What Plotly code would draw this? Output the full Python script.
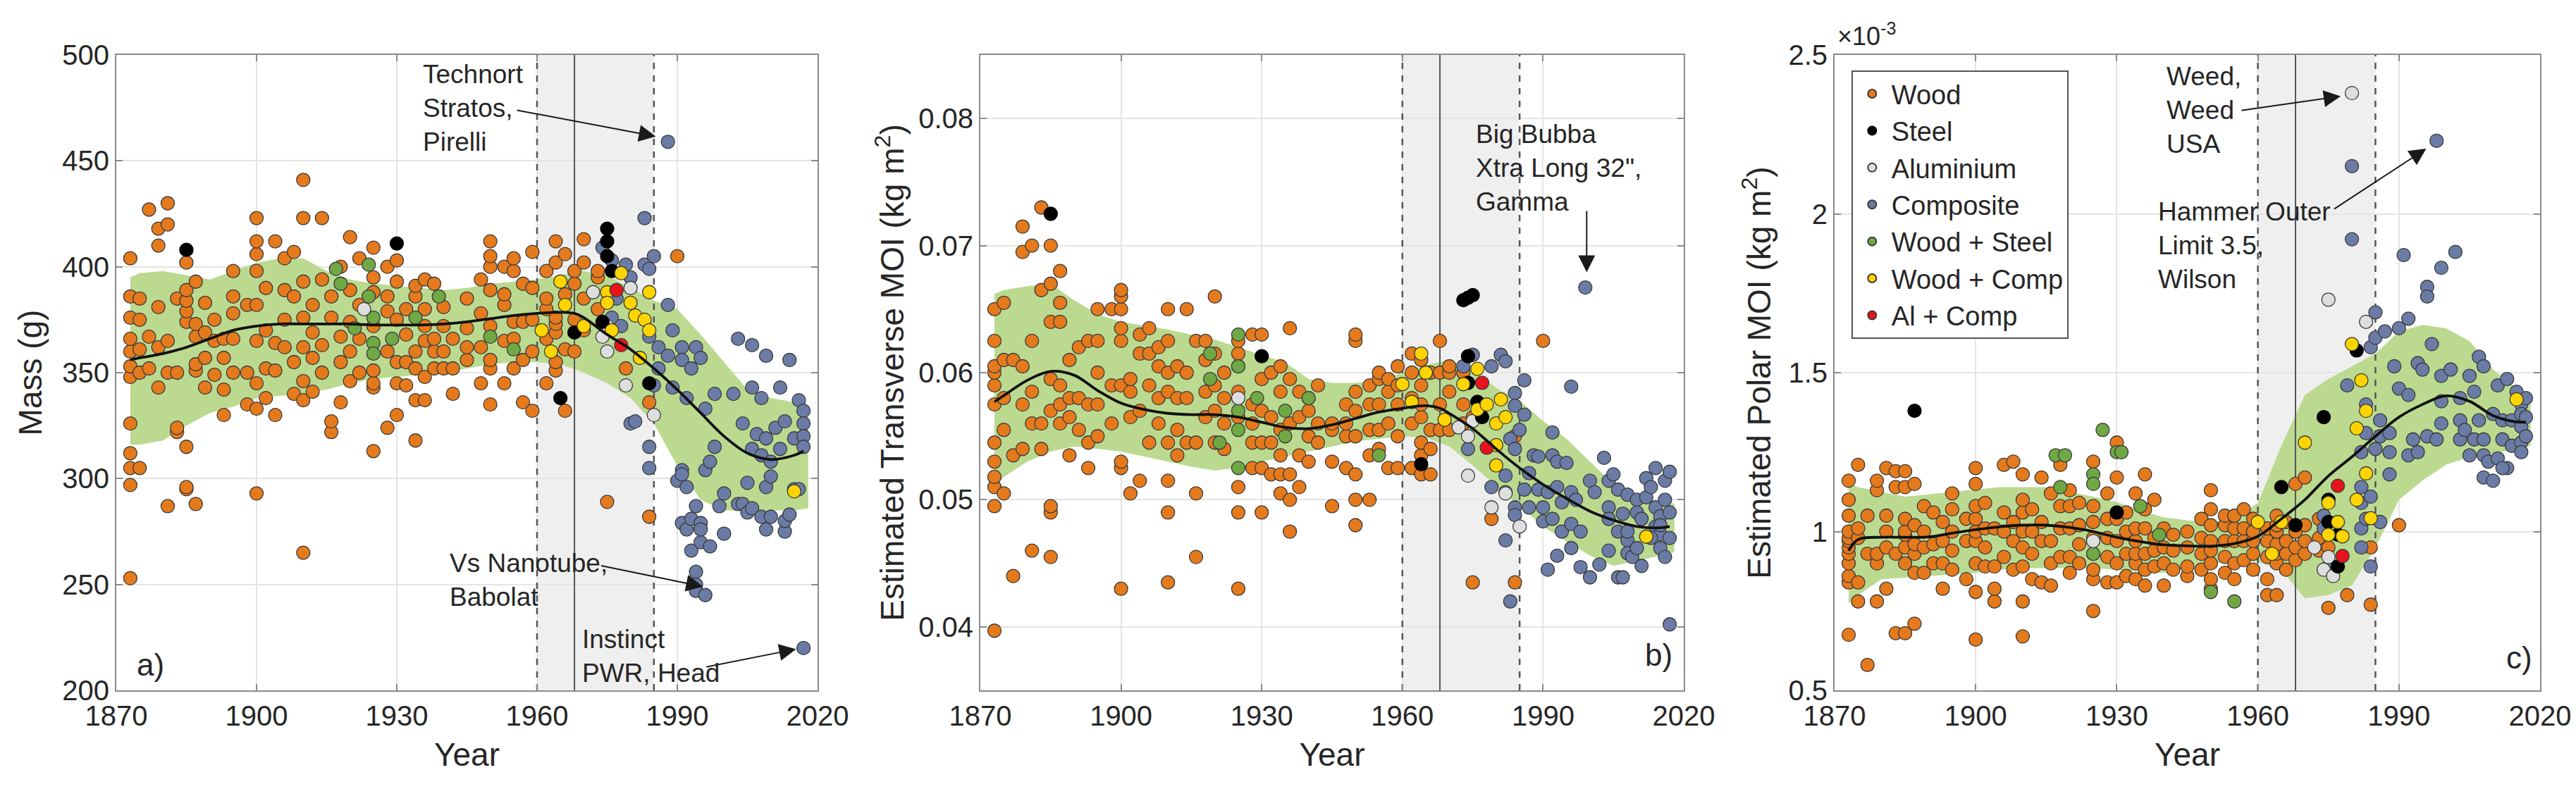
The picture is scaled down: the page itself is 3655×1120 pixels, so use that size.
import plotly.graph_objects as go

# ---------------------------------------------------------------- data
# wood rackets (same rackets in all three panels); polar MOI in 1e-3 kg m^2
WOOD_YEAR = [
    1873, 1873, 1873, 1873, 1873, 1873, 1873, 1873, 1873, 1873, 1873, 1873,
    1875, 1875, 1875, 1875, 1875,
    1877, 1877, 1877,
    1879, 1879, 1879, 1879, 1879,
    1881, 1881, 1881, 1881, 1881,
    1883, 1883, 1883, 1883,
    1885, 1885, 1885, 1885, 1885, 1885, 1885, 1885,
    1887, 1887, 1887, 1887, 1887, 1887,
    1889, 1889, 1889, 1889,
    1891, 1891, 1891,
    1893, 1893, 1893, 1893,
    1895, 1895, 1895, 1895, 1895,
    1898, 1898, 1898,
    1900, 1900, 1900, 1900, 1900, 1900, 1900, 1900, 1900,
    1902, 1902, 1902, 1902,
    1904, 1904, 1904, 1904,
    1906, 1906, 1906, 1906,
    1908, 1908, 1908, 1908,
    1910, 1910, 1910, 1910, 1910, 1910, 1910, 1910,
    1912, 1912, 1912, 1912,
    1914, 1914, 1914, 1914,
    1916, 1916, 1916, 1916,
    1918, 1918, 1918, 1918,
    1920, 1920, 1920, 1920, 1920,
    1922, 1922, 1922, 1922,
    1925, 1925, 1925, 1925, 1925, 1925, 1925, 1925,
    1928, 1928, 1928, 1928, 1928,
    1930, 1930, 1930, 1930, 1930, 1930,
    1932, 1932, 1932, 1932,
    1934, 1934, 1934, 1934, 1934, 1934,
    1936, 1936, 1936, 1936, 1936, 1936,
    1938, 1938, 1938, 1938,
    1940, 1940, 1940, 1940,
    1942, 1942, 1942,
    1945, 1945, 1945, 1945,
    1948, 1948, 1948, 1948,
    1950, 1950, 1950, 1950, 1950, 1950, 1950, 1950,
    1953, 1953, 1953, 1953, 1953,
    1955, 1955, 1955, 1955, 1955,
    1957, 1957, 1957, 1957,
    1959, 1959, 1959, 1959, 1959,
    1962, 1962, 1962, 1962, 1962,
    1964, 1964, 1964, 1964, 1964, 1964, 1964,
    1966, 1966, 1966, 1966,
    1968, 1968, 1968, 1968,
    1970, 1970, 1970, 1970,
    1973, 1973, 1973,
    1975, 1975,
    1979,
    1984, 1984,
    1990,
]
WOOD_MASS = [
    253, 297, 305, 312, 326, 348, 353, 360, 366, 376, 386, 404,
    305, 350, 361, 375, 385,
    352, 367, 427,
    343, 362, 381, 410, 418,
    287, 350, 365, 420, 430,
    322, 324, 350, 385,
    295, 296, 315, 374, 379, 384, 389, 402,
    288, 351, 354, 367, 373, 393,
    343, 357, 369, 383,
    349, 365, 375,
    330, 342, 357, 366,
    350, 366, 378, 386, 398,
    335, 350, 382,
    293, 333, 345, 365, 382, 398, 406, 412, 423,
    338, 352, 370, 390,
    330, 351, 364, 412,
    362, 375, 389, 404,
    340, 355, 386, 407,
    265, 337, 346, 362, 376, 393, 423, 441,
    341, 357, 369, 382,
    350, 363, 394, 423,
    322, 327, 376, 386,
    336, 355, 367, 400,
    346, 360, 374, 389, 414,
    350, 366, 382, 404,
    313, 343, 345, 351, 372, 388, 395, 409,
    324, 360, 379, 386, 400,
    330, 345, 355, 375, 393, 403,
    344, 355, 368, 380,
    318, 337, 352, 360, 386, 391,
    337, 348, 365, 372, 380, 394,
    352, 360, 366, 392,
    352, 360, 372, 381,
    340, 352, 366,
    356, 362, 371, 385,
    345, 362, 378, 394,
    335, 352, 356, 372, 389, 400, 405, 412,
    345, 365, 382, 387, 400,
    352, 366, 374, 398, 404,
    336, 356, 374, 392,
    332, 360, 375, 390, 407,
    345, 366, 380, 385, 398,
    351, 355, 369, 373, 376, 402, 412,
    332, 361, 387, 406,
    360, 375, 392, 398,
    370, 385, 402, 413,
    380, 395, 398,
    289, 370,
    352,
    282, 336,
    405,
]
WOOD_TMOI = [
    0.0397, 0.0495, 0.0510, 0.0518, 0.0530, 0.0545, 0.0575, 0.0590, 0.0600, 0.0605, 0.0625, 0.0650,
    0.0505, 0.0555, 0.0580, 0.0610, 0.0655,
    0.0440, 0.0535, 0.0610,
    0.0540, 0.0575, 0.0605, 0.0695, 0.0715,
    0.0460, 0.0560, 0.0585, 0.0625, 0.0700,
    0.0540, 0.0560, 0.0665, 0.0730,
    0.0455, 0.0490, 0.0495, 0.0570, 0.0595, 0.0640, 0.0670, 0.0700,
    0.0560, 0.0575, 0.0590, 0.0640, 0.0655, 0.0680,
    0.0535, 0.0565, 0.0580, 0.0610,
    0.0555, 0.0580, 0.0620,
    0.0525, 0.0545, 0.0575, 0.0625,
    0.0550, 0.0575, 0.0600, 0.0625, 0.0650,
    0.0560, 0.0590, 0.0650,
    0.0430, 0.0525, 0.0530, 0.0590, 0.0625, 0.0635, 0.0650, 0.0660, 0.0665,
    0.0505, 0.0565, 0.0585, 0.0595,
    0.0515, 0.0570, 0.0615, 0.0630,
    0.0545, 0.0590, 0.0615, 0.0635,
    0.0560, 0.0580, 0.0605, 0.0620,
    0.0435, 0.0490, 0.0515, 0.0545, 0.0585, 0.0600, 0.0625, 0.0650,
    0.0535, 0.0555, 0.0580, 0.0605,
    0.0545, 0.0580, 0.0600, 0.0650,
    0.0455, 0.0505, 0.0545, 0.0625,
    0.0565, 0.0585, 0.0610, 0.0625,
    0.0545, 0.0570, 0.0590, 0.0615, 0.0660,
    0.0540, 0.0560, 0.0580, 0.0600,
    0.0430, 0.0490, 0.0510, 0.0565, 0.0585, 0.0605, 0.0615, 0.0625,
    0.0525, 0.0545, 0.0560, 0.0575, 0.0630,
    0.0490, 0.0525, 0.0545, 0.0570, 0.0595, 0.0630,
    0.0520, 0.0545, 0.0565, 0.0600,
    0.0505, 0.0520, 0.0535, 0.0555, 0.0585, 0.0605,
    0.0475, 0.0500, 0.0520, 0.0560, 0.0595, 0.0635,
    0.0510, 0.0535, 0.0565, 0.0585,
    0.0530, 0.0550, 0.0570, 0.0580,
    0.0545, 0.0560, 0.0590,
    0.0495, 0.0530, 0.0555, 0.0560,
    0.0525, 0.0550, 0.0560, 0.0575,
    0.0480, 0.0500, 0.0520, 0.0550, 0.0570, 0.0585, 0.0625, 0.0630,
    0.0500, 0.0535, 0.0555, 0.0575, 0.0590,
    0.0540, 0.0555, 0.0575, 0.0595, 0.0600,
    0.0525, 0.0560, 0.0585, 0.0595,
    0.0525, 0.0550, 0.0575, 0.0590, 0.0605,
    0.0525, 0.0560, 0.0580, 0.0600, 0.0615,
    0.0520, 0.0535, 0.0545, 0.0565, 0.0575, 0.0590, 0.0610,
    0.0520, 0.0540, 0.0555, 0.0600,
    0.0555, 0.0575, 0.0600, 0.0625,
    0.0555, 0.0585, 0.0600, 0.0605,
    0.0560, 0.0575, 0.0600,
    0.0435, 0.0565,
    0.0485,
    0.0435, 0.0550,
    0.0625,
]
WOOD_PMOI = [
    0.675, 0.84, 0.86, 0.90, 0.93, 0.95, 0.97, 0.98, 1.00, 1.05, 1.10, 1.16,
    0.78, 0.84, 0.98, 1.01, 1.21,
    0.58, 0.93, 1.05,
    0.78, 0.90, 0.93, 1.13, 1.16,
    0.82, 0.95, 1.00, 1.05, 1.20,
    0.68, 0.93, 1.14, 1.19,
    0.68, 0.90, 0.95, 0.99, 1.00, 1.04, 1.14, 1.19,
    0.71, 0.87, 0.93, 0.96, 1.02, 1.15,
    0.87, 0.95, 1.00, 1.08,
    0.90, 0.96, 1.06,
    0.82, 0.90, 0.97, 1.03,
    0.88, 0.94, 1.00, 1.07, 1.12,
    0.85, 0.97, 1.04,
    0.66, 0.81, 0.90, 0.97, 1.00, 1.04, 1.08, 1.15, 1.20,
    0.89, 0.95, 1.01, 1.09,
    0.78, 0.82, 0.89, 1.01,
    0.92, 1.00, 1.06, 1.21,
    0.88, 0.97, 1.03, 1.22,
    0.67, 0.78, 0.89, 0.95, 1.00, 1.06, 1.10, 1.18,
    0.85, 0.93, 1.00, 1.07,
    0.84, 0.97, 1.03, 1.17,
    0.83, 0.90, 0.97, 1.12,
    0.92, 1.01, 1.08, 1.21,
    0.87, 0.92, 1.01, 1.08, 1.13,
    0.90, 0.96, 1.02, 1.09,
    0.75, 0.85, 0.88, 0.93, 0.98, 1.03, 1.08, 1.22,
    0.84, 0.92, 0.98, 1.04, 1.12,
    0.84, 0.90, 0.97, 1.04, 1.17, 1.28,
    0.86, 0.93, 1.00, 1.06,
    0.85, 0.90, 0.93, 0.97, 1.01, 1.12,
    0.83, 0.88, 0.93, 1.01, 1.07, 1.18,
    0.89, 0.94, 0.98, 1.10,
    0.83, 0.90, 0.95, 1.01,
    0.88, 0.94, 0.99,
    0.86, 0.89, 0.95, 1.00,
    0.88, 0.93, 0.98, 1.04,
    0.82, 0.85, 0.90, 0.94, 0.97, 1.02, 1.07, 1.13,
    0.87, 0.92, 0.97, 1.02, 1.05,
    0.85, 0.90, 0.97, 1.01, 1.05,
    0.91, 0.97, 1.01, 1.07,
    0.88, 0.93, 0.97, 1.00, 1.04,
    0.80, 0.85, 0.92, 0.97, 1.01,
    0.80, 0.90, 0.93, 0.96, 1.00, 1.02, 1.05,
    0.88, 0.93, 0.97, 1.03,
    0.91, 0.95, 1.00, 1.15,
    0.93, 0.97, 1.02, 1.17,
    0.94, 0.98, 1.04,
    0.76, 0.95,
    0.80,
    0.77, 0.95,
    1.02,
]

# composite rackets, read separately in each panel
COMP_YEAR_A = [
    1974, 1976, 1976, 1977, 1978, 1979, 1980, 1980, 1981, 1983, 1983, 1984, 1984, 1984, 1984,
    1985, 1985, 1986, 1986, 1988, 1988, 1988, 1989, 1989, 1990, 1991, 1991, 1991, 1991, 1991,
    1992, 1992, 1992, 1993, 1993, 1993, 1994, 1994, 1994, 1994, 1994, 1995, 1995, 1995, 1995,
    1996, 1996, 1996, 1997, 1997, 1998, 1998, 1999, 2000, 2000, 2002, 2003, 2003, 2004, 2004,
    2005, 2005, 2006, 2006, 2006, 2006, 2007, 2008, 2008, 2008, 2009, 2009, 2009, 2009, 2010,
    2010, 2010, 2011, 2012, 2012, 2013, 2013, 2013, 2014, 2014, 2015, 2015, 2016, 2016, 2017,
    2017, 2017, 2017, 2017,
]
COMP_MASS = [
    409, 403, 376, 385, 372, 401, 395, 326, 327, 423, 401, 399, 367, 315, 305,
    405, 344, 362, 352, 459, 382, 358, 370, 343, 299, 362, 356, 304, 302, 279,
    338, 296, 276, 352, 281, 266, 362, 287, 256, 250, 247, 357, 279, 270, 276,
    333, 304, 245, 308, 268, 340, 315, 287, 293, 274, 340, 366, 288, 326, 288,
    298, 284, 363, 343, 314, 286, 321, 338, 311, 282, 358, 296, 276, 319, 308,
    301, 282, 324, 343, 314, 327, 275, 280, 356, 283, 319, 295, 337, 295, 332,
    326, 320, 315, 220,
]
COMP_YEAR_B = [
    1973, 1974, 1975, 1979, 1979, 1981, 1982, 1982, 1982, 1982, 1983, 1983, 1984, 1984, 1984,
    1984, 1984, 1985, 1986, 1986, 1986, 1987, 1987, 1988, 1989, 1989, 1990, 1990, 1991, 1991,
    1992, 1992, 1992, 1993, 1993, 1993, 1994, 1994, 1995, 1996, 1996, 1996, 1996, 1997, 1998,
    1998, 1999, 2000, 2000, 2001, 2002, 2003, 2004, 2004, 2004, 2004, 2005, 2006, 2006, 2006,
    2007, 2007, 2008, 2008, 2008, 2008, 2010, 2010, 2012, 2012, 2014, 2014, 2014, 2015, 2015,
    2015, 2015, 2016, 2017, 2011, 2013, 2016, 2017, 2017, 2013, 2011, 2016, 2009, 2010, 2017,
]
COMP_TMOI = [
    0.0605, 0.0540, 0.0614, 0.0605, 0.0510, 0.0614, 0.0609, 0.0519, 0.0506, 0.0468, 0.0548, 0.0420, 0.0584, 0.0574, 0.0540,
    0.0494, 0.0488, 0.0555, 0.0594, 0.0567, 0.0508, 0.0521, 0.0494, 0.0535, 0.0534, 0.0508, 0.0494, 0.0483, 0.0506, 0.0445,
    0.0553, 0.0535, 0.0485, 0.0456, 0.0510, 0.0530, 0.0498, 0.0475, 0.0529, 0.0589, 0.0506, 0.0481, 0.0462, 0.0500, 0.0475,
    0.0447, 0.0667, 0.0515, 0.0439, 0.0506, 0.0449, 0.0533, 0.0515, 0.0494, 0.0460, 0.0485, 0.0520, 0.0508, 0.0475, 0.0439,
    0.0489, 0.0439, 0.0504, 0.0468, 0.0458, 0.0475, 0.0500, 0.0490, 0.0502, 0.0517, 0.0525, 0.0494, 0.0479, 0.0487, 0.0473,
    0.0462, 0.0480, 0.0500, 0.0402, 0.0485, 0.0470, 0.0455, 0.0490, 0.0470, 0.0510, 0.0448, 0.0515, 0.0455, 0.0462, 0.0522,
]
COMP_YEAR_C = [
    1975, 1974, 1974, 1979, 1980, 1980, 1982, 1982, 1982, 1982, 1982, 1983, 1983, 1983, 1984,
    1984, 1984, 1985, 1985, 1985, 1986, 1986, 1986, 1987, 1988, 1988, 1988, 1989, 1990, 1990,
    1991, 1992, 1992, 1992, 1993, 1994, 1994, 1995, 1996, 1996, 1996, 1997, 1998, 1998, 1999,
    1999, 1999, 1999, 2001, 2002, 2003, 2003, 2003, 2004, 2005, 2005, 2006, 2006, 2007, 2007,
    2008, 2008, 2008, 2008, 2009, 2010, 2011, 2011, 2012, 2012, 2013, 2013, 2014, 2014, 2015,
    2016, 2016, 2016, 2016, 2016, 2017, 2017, 2017, 2010, 2012,
]
COMP_PMOI = [
    0.89, 1.05, 1.01, 1.46, 2.15, 1.92, 1.25, 1.14, 1.09, 1.01, 0.95, 1.40, 1.31, 1.04, 1.58,
    1.11, 0.89, 1.69, 1.61, 1.26, 1.35, 1.30, 1.03, 1.63, 1.31, 1.25, 1.18, 1.52, 1.64, 1.45,
    1.87, 1.67, 1.43, 1.24, 1.29, 1.53, 1.25, 1.51, 1.77, 1.74, 1.30, 1.59, 1.29, 2.23, 1.83,
    1.49, 1.41, 1.34, 1.51, 1.88, 1.42, 1.35, 1.29, 1.32, 1.49, 1.24, 1.44, 1.29, 1.55, 1.35,
    1.52, 1.24, 1.17, 1.29, 1.22, 1.37, 1.46, 1.23, 1.35, 1.29, 1.48, 1.20, 1.27, 1.35, 1.44,
    1.40, 1.37, 1.33, 1.28, 1.25, 1.30, 1.36, 1.42, 1.16, 1.20,
]

STEEL_YEAR_A = [1885, 1930, 1965, 1968, 1974, 1975, 1975, 1975, 1976, 1984]
STEEL_MASS = [408, 411, 338, 369, 374, 418, 412, 405, 398, 345]
STEEL_YEAR_B = [1885, 1930, 1964, 1973, 1974, 1975, 1974, 1974, 1976, 1977]
STEEL_TMOI = [0.0725, 0.0613, 0.0528, 0.0657, 0.0659, 0.0661, 0.0613, 0.0592, 0.0577, 0.0565]
STEEL_YEAR_C = [1887, 1930, 1965, 1968, 1974, 1975, 1977, 1981, 1975, 1977]
STEEL_PMOI = [1.38, 1.06, 1.14, 1.02, 1.36, 1.03, 0.89, 1.57, 1.10, 0.99]

ALU_YEAR_A = [1923, 1972, 1974, 1975, 1975, 1979, 1980, 1985]
ALU_MASS = [380, 388, 367, 360, 372, 344, 390, 330]
ALU_YEAR_B = [1925, 1972, 1974, 1974, 1975, 1979, 1982, 1985]
ALU_TMOI = [0.0580, 0.0557, 0.0550, 0.0519, 0.0562, 0.0494, 0.0505, 0.0479]
ALU_YEAR_C = [1925, 1972, 1974, 1975, 1976, 1980, 1975, 1983]
ALU_PMOI = [0.97, 0.95, 0.88, 0.92, 0.86, 2.38, 1.73, 1.66]

WSTEEL_YEAR_A = [1917, 1918, 1921, 1924, 1924, 1925, 1925, 1925, 1929, 1934, 1939, 1950, 1955]
WSTEEL_MASS = [399, 392, 371, 401, 386, 376, 364, 359, 366, 376, 386, 367, 361]
WSTEEL_YEAR_B = [1919, 1919, 1921, 1925, 1925, 1925, 1925, 1925, 1929, 1935, 1940, 1955, 1935]
WSTEEL_TMOI = [0.0615, 0.0595, 0.0545, 0.0630, 0.0605, 0.0570, 0.0555, 0.0525, 0.0580, 0.0550, 0.0580, 0.0535, 0.0570]
WSTEEL_YEAR_C = [1917, 1919, 1918, 1927, 1925, 1925, 1925, 1930, 1931, 1935, 1939, 1950, 1955]
WSTEEL_PMOI = [1.24, 1.24, 1.14, 1.32, 1.18, 1.15, 0.93, 1.25, 1.25, 1.08, 0.99, 0.81, 0.78]

WCOMP_YEAR_A = [1961, 1963, 1965, 1966, 1970, 1975, 1975, 1976, 1978, 1980, 1981, 1982, 1983, 1984, 1984, 2015]
WCOMP_MASS = [370, 360, 393, 382, 372, 388, 383, 370, 397, 383, 377, 357, 375, 388, 370, 294]
WCOMP_YEAR_B = [1960, 1962, 1964, 1965, 1969, 1973, 1976, 1976, 1978, 1980, 1980, 1981, 1982, 1980, 2012]
WCOMP_TMOI = [0.0591, 0.0577, 0.0615, 0.0600, 0.0563, 0.0591, 0.0603, 0.0571, 0.0575, 0.0560, 0.0543,
              0.0579, 0.0565, 0.0527, 0.0471]
WCOMP_YEAR_C = [1960, 1963, 1965, 1970, 1975, 1975, 1977, 1978, 1980, 1981, 1981, 1982, 1983, 1983, 1984, 2015]
WCOMP_PMOI = [1.03, 0.93, 1.03, 1.28, 1.09, 0.99, 1.03, 0.985, 1.59, 1.325, 1.10, 1.476, 1.38, 1.183, 1.042, 1.416]

ALCOMP_YEAR = [1977, 1978]
ALCOMP_MASS = [389, 363]
ALCOMP_TMOI = [0.0592, 0.0541]
ALCOMP_PMOI = [1.144, 0.923]

# shaded spread and smoothed trend
BAND_YEAR = [1873, 1875, 1880, 1885, 1890, 1895, 1900, 1905, 1910, 1915, 1920, 1925, 1930, 1935, 1940,
             1945, 1950, 1955, 1960, 1965, 1970, 1975, 1980, 1985, 1990, 1995, 2000, 2005, 2010, 2015, 2018]
MASS_BAND_HI = [395, 397, 398, 396, 394, 398, 402, 404, 404, 398, 394, 392, 391, 390, 389,
                390, 392, 393, 394, 396, 398, 396, 390, 384, 380, 368, 355, 342, 338, 336, 334]
MASS_BAND_LO = [316, 316, 318, 325, 331, 334, 338, 339, 340, 342, 345, 347, 348, 349, 350,
                352, 354, 355, 355, 354, 350, 345, 338, 326, 306, 290, 285, 285, 285, 285, 286]
TMOI_BAND_HI = [0.0662, 0.0665, 0.0668, 0.0670, 0.0657, 0.0646, 0.0640, 0.0637, 0.0634, 0.0630, 0.0626,
                0.0620, 0.0614, 0.0608, 0.0595, 0.0592, 0.0592, 0.0594, 0.0600, 0.0606, 0.0610, 0.0602,
                0.0588, 0.0578, 0.0562, 0.0548, 0.0530, 0.0512, 0.0500, 0.0497, 0.0497]
TMOI_BAND_LO = [0.0510, 0.0518, 0.0530, 0.0538, 0.0542, 0.0540, 0.0538, 0.0534, 0.0530, 0.0526, 0.0523,
                0.0525, 0.0530, 0.0534, 0.0538, 0.0542, 0.0546, 0.0548, 0.0550, 0.0549, 0.0542, 0.0527,
                0.0511, 0.0495, 0.0479, 0.0467, 0.0456, 0.0448, 0.0452, 0.0456, 0.0459]
PMOI_BAND_HI = [1.15, 1.14, 1.125, 1.11, 1.117, 1.125, 1.133, 1.14, 1.14, 1.14, 1.125, 1.11, 1.093, 1.065,
                1.045, 1.035, 1.03, 1.04, 1.09, 1.27, 1.43, 1.48, 1.52, 1.56, 1.63, 1.65, 1.64, 1.60,
                1.51, 1.45, 1.43]
PMOI_BAND_LO = [0.775, 0.80, 0.85, 0.855, 0.86, 0.865, 0.87, 0.88, 0.885, 0.885, 0.885, 0.885, 0.88,
                0.875, 0.87, 0.885, 0.90, 0.905, 0.905, 0.88, 0.79, 0.80, 0.83, 0.95, 1.10, 1.16, 1.21,
                1.235, 1.245, 1.26, 1.27]

TREND_YEAR = [1873, 1875, 1880, 1885, 1890, 1895, 1900, 1905, 1910, 1915, 1920, 1925, 1930, 1935, 1940, 1945,
              1950, 1955, 1960, 1965, 1968, 1970, 1975, 1980, 1985, 1990, 1995, 2000, 2005, 2010, 2015, 2017]
MASS_TREND = [356, 357, 359, 362, 366, 370, 372, 373, 373, 373, 373, 372.5, 372.5, 372.5, 373, 374,
              375.5, 377, 378, 378.5, 378, 376, 368, 361, 352, 342, 331, 320, 312, 309, 311, 313]
TMOI_TREND = [0.0577, 0.0582, 0.0594, 0.0601, 0.0598, 0.0586, 0.0576, 0.0571, 0.0568, 0.0567, 0.0567,
              0.0565, 0.0561, 0.0557, 0.0556, 0.0559, 0.0564, 0.0569, 0.0572, 0.0574, 0.0572, 0.0568,
              0.0556, 0.0540, 0.0525, 0.0512, 0.0501, 0.0491, 0.0484, 0.0479, 0.0478, 0.0479]
PMOI_TREND = [0.94, 0.975, 0.982, 0.982, 0.983, 0.995, 1.006, 1.015, 1.02, 1.02, 1.013, 1.0, 0.982, 0.968,
              0.958, 0.955, 0.954, 0.962, 0.985, 1.04, 1.075, 1.10, 1.175, 1.235, 1.30, 1.36, 1.40, 1.427,
              1.41, 1.365, 1.345, 1.345]

ERA_START, ERA_SPLIT, ERA_END = 1960, 1968, 1985

MATERIALS = ["Wood", "Steel", "Aluminium", "Composite", "Wood + Steel", "Wood + Comp", "Al + Comp"]
COLOURS = {
    "Wood": "#e57a1c",
    "Steel": "#000000",
    "Aluminium": "#dedede",
    "Composite": "#6a7ca6",
    "Wood + Steel": "#6fa844",
    "Wood + Comp": "#ffd400",
    "Al + Comp": "#e8141c",
}
DRAW_ORDER = ["Wood", "Composite", "Wood + Steel", "Aluminium", "Steel", "Wood + Comp", "Al + Comp"]

FONT = "Liberation Sans, Arial, sans-serif"
TEXT = "#262626"
BAND_GREEN = "#bbda90"

panels = [
    dict(
        xref="x", yref="y", xdom=[0.04295, 0.31518], yrange=[200, 500], dtick=50, fmt="",
        title="Mass (g)", standoff=14,
        series={
            "Wood": (WOOD_YEAR, WOOD_MASS), "Steel": (STEEL_YEAR_A, STEEL_MASS),
            "Aluminium": (ALU_YEAR_A, ALU_MASS), "Composite": (COMP_YEAR_A, COMP_MASS),
            "Wood + Steel": (WSTEEL_YEAR_A, WSTEEL_MASS), "Wood + Comp": (WCOMP_YEAR_A, WCOMP_MASS),
            "Al + Comp": (ALCOMP_YEAR, ALCOMP_MASS),
        },
        band=(MASS_BAND_HI, MASS_BAND_LO), trend=MASS_TREND,
    ),
    dict(
        xref="x2", yref="y2", xdom=[0.37839, 0.65144], yrange=[0.035, 0.085], dtick=0.01, fmt=".2f",
        title="Estimated Transverse MOI (kg m<sup>2</sup>)", standoff=6,
        series={
            "Wood": (WOOD_YEAR, WOOD_TMOI), "Steel": (STEEL_YEAR_B, STEEL_TMOI),
            "Aluminium": (ALU_YEAR_B, ALU_TMOI), "Composite": (COMP_YEAR_B, COMP_TMOI),
            "Wood + Steel": (WSTEEL_YEAR_B, WSTEEL_TMOI), "Wood + Comp": (WCOMP_YEAR_B, WCOMP_TMOI),
            "Al + Comp": (ALCOMP_YEAR, ALCOMP_TMOI),
        },
        band=(TMOI_BAND_HI, TMOI_BAND_LO), trend=TMOI_TREND,
    ),
    dict(
        xref="x3", yref="y3", xdom=[0.70999, 0.98386], yrange=[0.5, 2.5], dtick=0.5, fmt="",
        title="Estimated Polar MOI (kg m<sup>2</sup>)", standoff=10,
        series={
            "Wood": (WOOD_YEAR, WOOD_PMOI), "Steel": (STEEL_YEAR_C, STEEL_PMOI),
            "Aluminium": (ALU_YEAR_C, ALU_PMOI), "Composite": (COMP_YEAR_C, COMP_PMOI),
            "Wood + Steel": (WSTEEL_YEAR_C, WSTEEL_PMOI), "Wood + Comp": (WCOMP_YEAR_C, WCOMP_PMOI),
            "Al + Comp": (ALCOMP_YEAR, ALCOMP_PMOI),
        },
        band=(PMOI_BAND_HI, PMOI_BAND_LO), trend=PMOI_TREND,
    ),
]

fig = go.Figure()
shapes = []

for i, p in enumerate(panels):
    xr, yr = p["xref"], p["yref"]
    hi, lo = p["band"]

    # spread band
    fig.add_trace(go.Scatter(
        x=BAND_YEAR + BAND_YEAR[::-1], y=hi + lo[::-1], xaxis=xr, yaxis=yr,
        mode="lines", fill="toself", fillcolor=BAND_GREEN, line=dict(width=0),
        showlegend=False, hoverinfo="skip",
    ))

    # era markers
    for yr_mark, dash, width in [(ERA_START, "dash", 2.5), (ERA_END, "dash", 2.5), (ERA_SPLIT, "solid", 2)]:
        fig.add_trace(go.Scatter(
            x=[yr_mark, yr_mark], y=p["yrange"], xaxis=xr, yaxis=yr, mode="lines",
            line=dict(color="#555555", width=width, dash=dash), showlegend=False, hoverinfo="skip",
        ))

    shapes.append(dict(
        type="rect", xref=xr, yref=f"{yr} domain", x0=ERA_START, x1=ERA_END, y0=0, y1=1,
        fillcolor="#efefef", line=dict(width=0), layer="below",
    ))

    for name in DRAW_ORDER:
        xs, ys = p["series"][name]
        edge = "#000000" if name == "Steel" else "#3a3a3a"
        fig.add_trace(go.Scatter(
            x=xs, y=ys, xaxis=xr, yaxis=yr, mode="markers", name=name,
            marker=dict(size=19, color=COLOURS[name], line=dict(color=edge, width=1.3)),
            showlegend=(i == 0), legendrank=MATERIALS.index(name) + 1,
        ))

    fig.add_trace(go.Scatter(
        x=TREND_YEAR, y=p["trend"], xaxis=xr, yaxis=yr, mode="lines",
        line=dict(color="#111111", width=3.8, shape="spline"), showlegend=False, hoverinfo="skip",
    ))

axis_style = dict(
    showline=True, mirror="ticks", linecolor="#8a8a8a", linewidth=2,
    showgrid=True, gridcolor="#e4e4e4", gridwidth=2, zeroline=False,
    ticks="inside", ticklen=9, tickwidth=2, tickcolor="#8a8a8a",
    tickfont=dict(family=FONT, size=40, color=TEXT), automargin=False,
)

layout = dict(
    width=3655, height=1120, margin=dict(l=0, r=0, t=0, b=0),
    paper_bgcolor="white", plot_bgcolor="white", template="none",
    font=dict(family=FONT, color=TEXT),
    shapes=shapes,
    legend=dict(
        x=0.7165, y=0.918, xanchor="left", yanchor="top", bgcolor="white",
        bordercolor="#555555", borderwidth=2, font=dict(family=FONT, size=38, color=TEXT),
        itemsizing="constant", itemwidth=45, tracegroupgap=0,
    ),
)
for i, p in enumerate(panels):
    sfx = "" if i == 0 else str(i + 1)
    layout[f"xaxis{sfx}"] = dict(
        axis_style, domain=p["xdom"], anchor=p["yref"], range=[1870, 2020],
        tickvals=[1870, 1900, 1930, 1960, 1990, 2020],
        title=dict(text="Year", font=dict(family=FONT, size=46, color=TEXT), standoff=18),
    )
    layout[f"yaxis{sfx}"] = dict(
        axis_style, domain=[0.1321, 0.9375], anchor=p["xref"], range=p["yrange"],
        dtick=p["dtick"], tickformat=p["fmt"],
        title=dict(text=p["title"], font=dict(family=FONT, size=46, color=TEXT), standoff=p["standoff"]),
    )
fig.update_layout(**layout)


def label(xr, yr, x, y, text, size=37):
    fig.add_annotation(x=x, y=y, xref=xr, yref=yr, text=text, showarrow=False,
                       xanchor="left", yanchor="middle", align="left",
                       font=dict(family=FONT, size=size, color=TEXT))


def arrow(xr, yr, tail, head):
    fig.add_annotation(x=head[0], y=head[1], ax=tail[0], ay=tail[1], xref=xr, yref=yr,
                       axref=xr, ayref=yr, text="", showarrow=True, arrowhead=2,
                       arrowsize=2.4, arrowwidth=2.0, arrowcolor="#1a1a1a")


label("x", "y", 1935.3, 475, "Technort<br>Stratos,<br>Pirelli")
arrow("x", "y", (1955.5, 474), (1985.4, 461.5))
label("x", "y", 1941, 252, "Vs Nanotube,<br>Babolat")
arrow("x", "y", (1973.5, 259), (1995.5, 249))
label("x", "y", 1969.4, 216, "Instinct<br>PWR, Head")
arrow("x", "y", (1996, 211), (2015.4, 219.5))
label("x", "y", 1874, 212, "a)", size=44)

label("x2", "y2", 1975.3, 0.0761, 'Big Bubba<br>Xtra Long 32",<br>Gamma')
arrow("x2", "y2", (1999.3, 0.0728), (1999.3, 0.0679))
label("x2", "y2", 2011.5, 0.0378, "b)", size=44)

label("x3", "y3", 1940.3, 2.325, "Weed,<br>Weed<br>USA")
arrow("x3", "y3", (1956.3, 2.325), (1977.6, 2.37))
label("x3", "y3", 1938.5, 1.90, "Hammer Outer<br>Limit 3.5,<br>Wilson")
arrow("x3", "y3", (1976, 2.013), (1995.8, 2.205))
label("x3", "y3", 2012.5, 0.604, "c)", size=44)

fig.add_annotation(x=0.7105, y=0.963, xref="paper", yref="paper", text="×10<sup>-3</sup>",
                   showarrow=False, xanchor="left", yanchor="middle",
                   font=dict(family=FONT, size=36, color=TEXT))

fig.write_html("out.html")
